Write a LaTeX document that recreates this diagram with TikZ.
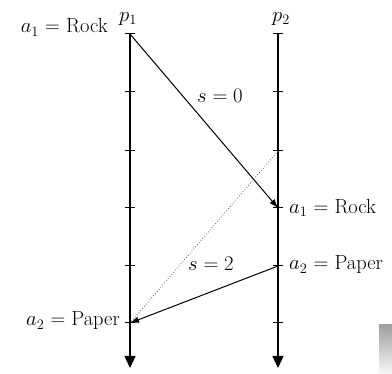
\documentclass[tikz,border=0pt]{standalone}
\usetikzlibrary{arrows.meta}
\begin{document}
\begin{tikzpicture}[x=1pt,y=-1pt,
  timeline/.style={line width=1.4pt,-{Triangle[length=12pt,width=11pt]}},
  tickmark/.style={line width=1pt},
  msg/.style={line width=1pt,-{Latex[length=9pt,width=6.5pt]}},
  lbl/.style={font=\fontsize{20.5}{24}\selectfont,inner sep=0pt},
  plbl/.style={font=\fontsize{22}{26}\selectfont,inner sep=0pt}]
\useasboundingbox (0,0) rectangle (392,374);
% cut-off fragment at the edge
\shade[top color=gray!75,bottom color=gray!5] (379,325) rectangle (392,374);
% coordinates
\foreach \i/\y in {0/34,1/92,2/151,3/208,4/266,5/323}{
  \coordinate (L\i) at (130,\y);
  \coordinate (R\i) at (278,\y);
}
\coordinate (Lend) at (130,368);
\coordinate (Rend) at (278,368);
% timelines
\draw[timeline] (L0) -- (Lend);
\draw[timeline] (R0) -- (Rend);
\foreach \i in {0,...,5}{
  \draw[tickmark] ([xshift=-5pt]L\i) -- ([xshift=5pt]L\i);
  \draw[tickmark] ([xshift=-5pt]R\i) -- ([xshift=5pt]R\i);
}
% process labels
\node[plbl,anchor=south] (p1) at ([xshift=-2pt,yshift=8pt]L0) {$p_1$};
\node[plbl,anchor=south] (p2) at ([xshift=3pt,yshift=8pt]R0) {$p_2$};
% messages
\draw[msg] (L0) -- (R3);
\draw[line width=0.8pt,dotted,gray!70!black] (R2) -- (L5);
\draw[msg] (R4) -- (L5);
\node[lbl] (s0) at (220,96) {$s=0$};
\node[lbl] (s2) at (211,264) {$s=2$};
% event labels
\node[lbl,anchor=base east] (e1) at (108,33) {$a_1$ = Rock};
\node[lbl,anchor=west] (e2) at (289,208) {$a_1$ = Rock};
\node[lbl,anchor=west] (e3) at (289,265) {$a_2$ = Paper};
\node[lbl,anchor=east] (e4) at (120,321) {$a_2$ = Paper};
\end{tikzpicture}
\end{document}
